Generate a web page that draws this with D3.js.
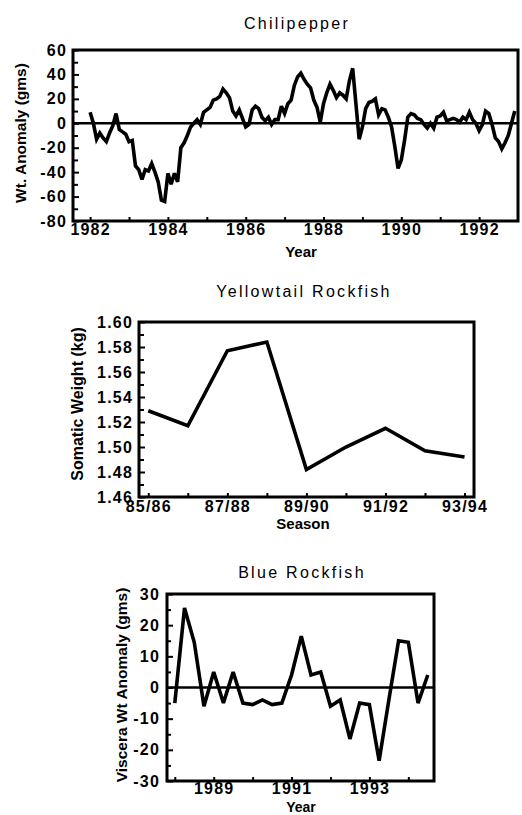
<!DOCTYPE html>
<html>
<head>
<meta charset="utf-8">
<script src="https://cdn.jsdelivr.net/npm/d3@7"></script>
<style>
  body { margin: 0; background: #fff; }
  svg { display: block; }
</style>
</head>
<body>
<svg id="chart" width="522" height="815"></svg>
<script>
// ---- Chilipepper: monthly weight anomaly (gms), Jan 1982 onward ----
const chiliStartYear = 1982;
const chiliMonthly = [
  9, 0, -13, -8, -12, -15, -8, -2, 8, -5, -7, -9,          // 1982
  -15, -14, -35, -38, -46, -38, -39, -33, -40, -48, -63, -64, // 1983
  -41, -50, -41, -48, -20, -16, -10, -3, 0, 3, -1, 9,       // 1984
  11, 13, 19, 20, 22, 28, 25, 21, 10, 6, 11, 4,             // 1985
  -3, -1, 11, 14, 12, 5, 2, 5, -1, 3, 3, 14,                // 1986
  8, 16, 19, 31, 38, 41, 36, 32, 29, 19, 13, 1,             // 1987
  16, 25, 32, 27, 21, 25, 23, 20, 35, 45, 16, -13,          // 1988
  -3, 12, 17, 18, 20, 7, 12, 11, 5, -3, -19, -37,           // 1989
  -30, -14, 5, 8, 7, 4, 3, -1, -4, 0, -4, 5,                // 1990
  6, 9, 2, 3, 4, 3, 1, 5, 3, 9, 3, 0,                       // 1991
  -6, -1, 10, 8, -1, -12, -15, -21, -16, -10, 0, 10         // 1992
];
const chiliYearTicks = [1982, 1983, 1984, 1985, 1986, 1987, 1988, 1989, 1990, 1991, 1992];
const chiliYearLabels = [1982, 1984, 1986, 1988, 1990, 1992];
const chiliValueLabels = [-80, -60, -40, -20, 0, 20, 40, 60];
const chiliValueMinor = [-70, -50, -30, -10, 10, 30, 50];

// ---- Yellowtail Rockfish: somatic weight (kg) by season ----
const yellowSeasons = ["85/86", "86/87", "87/88", "88/89", "89/90", "90/91", "91/92", "92/93", "93/94"];
const yellowWeight = [1.529, 1.517, 1.577, 1.584, 1.482, 1.500, 1.515, 1.497, 1.492];
const yellowSeasonLabels = ["85/86", "87/88", "89/90", "91/92", "93/94"];
const yellowValueLabels = [1.46, 1.48, 1.50, 1.52, 1.54, 1.56, 1.58, 1.60];
const yellowValueMinor = [1.47, 1.49, 1.51, 1.53, 1.55, 1.57, 1.59];

// ---- Blue Rockfish: quarterly viscera weight anomaly (gms), from 1988 ----
const blueStartYear = 1988;
const blueQuarterly = [
  -5, 25.5, 14.5, -6,    // 1988
  5, -5, 5, -5,          // 1989
  -5.5, -4, -5.5, -5,    // 1990
  4, 16.5, 4, 5,         // 1991
  -6, -4, -16.5, -5,     // 1992
  -5.5, -23.5, -4, 15,   // 1993
  14.5, -5, 4            // 1994
];
const blueYearTicks = [1988, 1989, 1990, 1991, 1992, 1993, 1994];
const blueYearLabels = [1989, 1991, 1993];
const blueValueLabels = [-30, -20, -10, 0, 10, 20, 30];
const blueValueMinor = [-25, -15, -5, 5, 15, 25];

const svg = d3.select("#chart");
const SANS = "'Liberation Sans', Arial, Helvetica, sans-serif";

function styleTickText(sel, size) {
  sel.selectAll("text")
    .attr("fill", "#000")
    .style("font-family", SANS)
    .style("font-weight", "bold")
    .style("font-size", size + "px")
    .style("letter-spacing", "1.2px");
}

function drawPanel(o) {
  const x = d3.scaleLinear().domain(o.xDomain).range([o.left, o.right]);
  const y = d3.scaleLinear().domain(o.yDomain).range([o.bottom, o.top]);
  const g = svg.append("g");

  // bottom axis: inward ticks, labels below
  const xTickAxis = g.append("g")
    .attr("transform", `translate(0,${o.bottom})`)
    .call(d3.axisBottom(x).tickValues(o.xTicks).tickSizeInner(-o.xTickLen).tickSizeOuter(0).tickFormat(""));
  xTickAxis.select(".domain").remove();
  xTickAxis.selectAll("line").attr("stroke-width", 2);

  const xLabelAxis = g.append("g")
    .attr("transform", `translate(0,${o.bottom})`)
    .call(d3.axisBottom(x).tickValues(o.xLabelValues).tickSize(0).tickPadding(o.xPad)
      .tickFormat((d, i) => o.xLabels[i]));
  xLabelAxis.select(".domain").remove();
  styleTickText(xLabelAxis, 16);

  // left axis: inward ticks, labels outside
  const yMinorAxis = g.append("g")
    .attr("transform", `translate(${o.left},0)`)
    .call(d3.axisLeft(y).tickValues(o.yMinor).tickSizeInner(-o.yMinorLen).tickSizeOuter(0).tickFormat(""));
  yMinorAxis.select(".domain").remove();
  yMinorAxis.selectAll("line").attr("stroke-width", 2);

  const yMajorAxis = g.append("g")
    .attr("transform", `translate(${o.left},0)`)
    .call(d3.axisLeft(y).tickValues(o.yLabels).tickSizeInner(-o.yMajorLen).tickSizeOuter(0)
      .tickPadding(o.yPad).tickFormat(o.yFormat));
  yMajorAxis.select(".domain").remove();
  yMajorAxis.selectAll("line").attr("stroke-width", 2);
  styleTickText(yMajorAxis, 16);

  // zero reference line
  if (o.zeroLine) {
    g.append("line")
      .attr("x1", o.left).attr("x2", o.right)
      .attr("y1", y(0)).attr("y2", y(0))
      .attr("stroke", "#000").attr("stroke-width", 2.6);
  }

  // series
  const line = d3.line().x(d => x(d[0])).y(d => y(d[1]));
  g.append("path")
    .datum(o.points)
    .attr("d", line)
    .attr("fill", "none")
    .attr("stroke", "#000")
    .attr("stroke-width", 3.6)
    .attr("stroke-linejoin", "miter")
    .attr("stroke-miterlimit", 3);

  // plot frame
  g.append("rect")
    .attr("x", o.left).attr("y", o.top)
    .attr("width", o.right - o.left).attr("height", o.bottom - o.top)
    .attr("fill", "none").attr("stroke", "#000").attr("stroke-width", 3);

  // title
  g.append("text")
    .attr("x", o.titleX).attr("y", o.titleY)
    .attr("text-anchor", "middle")
    .style("font-family", SANS).style("font-size", "16px").style("letter-spacing", "2.3px")
    .text(o.title);

  // x axis title
  g.append("text")
    .attr("x", o.xTitleX).attr("y", o.xTitleY)
    .attr("text-anchor", "middle")
    .style("font-family", SANS).style("font-weight", "bold").style("font-size", o.xTitleSize + "px")
    .text(o.xTitle);

  // y axis title
  g.append("text")
    .attr("transform", `translate(${o.yTitleX},${o.yTitleY}) rotate(-90)`)
    .attr("text-anchor", "middle")
    .attr("dominant-baseline", "central")
    .style("font-family", SANS).style("font-weight", "bold").style("font-size", o.yTitleSize + "px")
    .text(o.yTitle);
}

// Chilipepper
drawPanel({
  left: 73, right: 518, top: 50, bottom: 221,
  xDomain: [1981.56, 1993.0], yDomain: [-80, 60],
  points: chiliMonthly.map((v, i) => [chiliStartYear + i / 12, v]),
  xTicks: chiliYearTicks, xTickLen: 4,
  xLabelValues: chiliYearLabels, xLabels: chiliYearLabels.map(String), xPad: 3,
  yLabels: chiliValueLabels, yMinor: chiliValueMinor,
  yMajorLen: 6, yMinorLen: 5, yPad: 6, yFormat: d => String(d),
  zeroLine: true,
  title: "Chilipepper", titleX: 297, titleY: 29,
  xTitle: "Year", xTitleX: 301, xTitleY: 257, xTitleSize: 15,
  yTitle: "Wt. Anomaly (gms)", yTitleX: 20, yTitleY: 133, yTitleSize: 15.5
});

// Yellowtail Rockfish
drawPanel({
  left: 139, right: 474, top: 322, bottom: 497,
  xDomain: [-0.235, 8.24], yDomain: [1.46, 1.60],
  points: yellowWeight.map((v, i) => [i, v]),
  xTicks: yellowSeasons.map((s, i) => i), xTickLen: 4,
  xLabelValues: yellowSeasonLabels.map(s => yellowSeasons.indexOf(s)), xLabels: yellowSeasonLabels, xPad: 4,
  yLabels: yellowValueLabels, yMinor: yellowValueMinor,
  yMajorLen: 6, yMinorLen: 5, yPad: 6, yFormat: d3.format(".2f"),
  zeroLine: false,
  title: "Yellowtail Rockfish", titleX: 304, titleY: 297,
  xTitle: "Season", xTitleX: 303, xTitleY: 529, xTitleSize: 15,
  yTitle: "Somatic Weight (kg)", yTitleX: 77, yTitleY: 404, yTitleSize: 16
});

// Blue Rockfish
drawPanel({
  left: 167, right: 434, top: 594, bottom: 781,
  xDomain: [1987.8, 1994.66], yDomain: [-30, 30],
  points: blueQuarterly.map((v, i) => [blueStartYear + i / 4, v]),
  xTicks: blueYearTicks, xTickLen: 4,
  xLabelValues: blueYearLabels, xLabels: blueYearLabels.map(String), xPad: 2,
  yLabels: blueValueLabels, yMinor: blueValueMinor,
  yMajorLen: 6, yMinorLen: 4, yPad: 7, yFormat: d => String(d),
  zeroLine: true,
  title: "Blue Rockfish", titleX: 302, titleY: 578,
  xTitle: "Year", xTitleX: 301, xTitleY: 811.5, xTitleSize: 14,
  yTitle: "Viscera Wt Anomaly (gms)", yTitleX: 121, yTitleY: 685, yTitleSize: 15.5
});
</script>
</body>
</html>
